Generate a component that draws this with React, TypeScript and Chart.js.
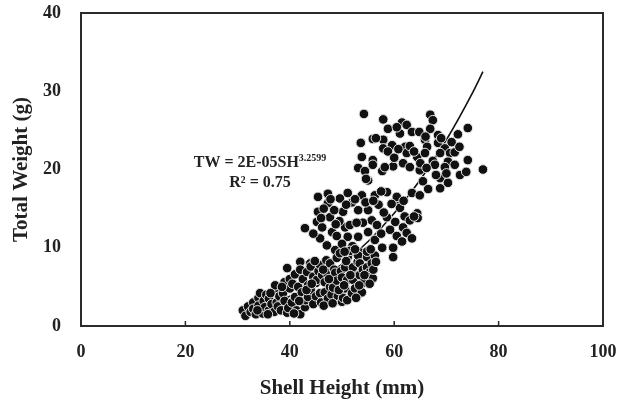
import React, { useEffect, useRef } from "react";
import { Chart, registerables } from "chart.js";

Chart.register(...registerables);

// Shell height (mm) of each sampled animal
const lowerShellHeight = [31, 31.5, 32, 32.5, 33, 33, 33.5, 34, 34, 34.3, 34.8, 35, 35.2, 35.5, 36, 36, 36.5, 37, 37, 37.2, 37.5, 37.7, 38, 38.3, 38.7, 39, 39, 39.5, 39.5, 39.7, 40, 40, 40.4, 40.5, 41, 41, 41.3, 41.6, 42, 42, 42, 42.3, 42.5, 42.9, 43, 43.3, 43.5, 43.5, 43.9, 44, 44, 44.5, 44.5, 45, 45, 45.2, 45.5, 45.8, 45.8, 46, 46.2, 46.7, 46.7, 47, 47.1, 47.3, 47.7, 47.7, 48, 48.3, 48.5, 48.7, 49, 49, 49.2, 49.6, 49.8, 50, 50, 50.2, 50.6, 50.6, 51, 51, 51.1, 51.5, 51.9, 52, 52.1, 52.1, 52.5, 53, 53.1, 53.4, 53.4, 53.8, 54, 54, 54.8, 54.8, 54.8, 55.2, 55.7, 55.9, 56, 56.3,
  33.8, 35.8, 36.3, 38.5, 40.8, 41.8, 43.2, 44.2, 44.8, 46.4, 46.5, 47.5, 48.2, 49.4, 50.4, 50.8, 51.6, 52.7, 53.3, 54.3, 55.3, 52.5, 50.5, 56.5, 55.5];
const lowerTotalWeight = [2.0, 1.3, 2.5, 1.8, 3.0, 2.2, 1.5, 3.6, 2.6, 4.2, 1.6, 3.2, 2.4, 4.0, 2.0, 3.5, 2.8, 1.8, 4.4, 5.2, 3.0, 2.5, 3.8, 2.0, 4.2, 5.6, 3.2, 7.4, 1.7, 2.3, 4.8, 6.0, 3.0, 5.4, 3.7, 6.6, 2.0, 5.0, 8.2, 7.2, 1.5, 4.3, 6.0, 2.4, 3.3, 6.9, 3.7, 5.2, 8.0, 4.6, 7.6, 2.8, 6.3, 3.8, 5.5, 5.9, 7.0, 7.8, 4.2, 3.0, 6.5, 4.3, 5.6, 8.4, 6.8, 3.5, 8.0, 5.0, 4.0, 4.9, 7.2, 6.8, 8.7, 5.8, 3.8, 9.3, 7.0, 3.1, 6.2, 3.6, 7.5, 4.8, 3.3, 5.9, 8.8, 9.6, 4.2, 6.8, 7.5, 5.9, 4.8, 8.2, 9.0, 6.5, 8.0, 4.3, 7.2, 5.5, 8.8, 7.5, 9.5, 6.8, 8.0, 6.1, 7.2, 9.0,
  2.0, 1.5, 4.2, 5.0, 1.6, 3.2, 4.6, 5.4, 8.3, 7.2, 2.6, 6.0, 2.9, 4.6, 5.2, 8.3, 6.5, 3.6, 5.2, 6.5, 5.4, 9.8, 9.5, 8.2, 9.8];

const middleShellHeight = [45.4, 47.3, 47.3, 49.6, 51.1, 51.9, 53.8, 56.3, 58.6, 60.5, 63.4, 45.4, 47.7, 50.2, 53.1, 55, 55.7, 45.2, 46.2, 42.9, 48.1, 50.6, 51.5, 53.1, 51.1, 45.8, 47.1, 48.7, 56.7, 58.6, 60.2, 61.7, 62.4, 59.2, 63.4, 57.7, 59.8, 59.8, 61.1, 64.4, 53.4, 56.3, 46.5, 48.5, 49, 52.5, 54.5, 57, 58, 62, 63, 64.5, 44.5, 50, 52, 55, 54, 57.5, 60.5, 61.5, 46, 49.5, 64.9, 60.5,
  47.8, 50.8, 52.8, 48.8, 56, 57.5, 59.5, 61.8, 63.8];
const middleTotalWeight = [16.5, 16.9, 15.7, 16.3, 17.0, 15.8, 16.7, 16.7, 17.1, 16.1, 17.0, 14.6, 13.9, 14.6, 14.8, 14.8, 13.5, 13.3, 12.6, 12.5, 12.0, 12.6, 12.9, 11.4, 11.4, 11.2, 10.3, 9.7, 12.9, 13.9, 13.3, 12.6, 11.9, 12.3, 11.2, 10.0, 10.0, 8.8, 15.1, 14.4, 9.4, 11.0, 15.0, 14.8, 11.5, 16.2, 15.8, 15.5, 14.5, 14.0, 13.5, 13.8, 11.8, 10.5, 10.2, 12.0, 13.2, 11.8, 11.5, 10.8, 13.8, 13.4, 16.7, 16.5,
  16.2, 15.5, 13.2, 13.0, 16.0, 17.2, 15.6, 16.0, 14.0];

const upperShellHeight = [54.2, 57.9, 58.8, 61.5, 62.4, 66.9, 67.4, 66.9, 61.1, 63.4, 64.8, 68.4, 72.2, 74.1, 53.6, 55.9, 57.9, 57.9, 59.6, 58.8, 62.1, 62.4, 65.9, 66.3, 68.4, 69.7, 68.8, 70.7, 71.6, 53.8, 55.9, 64.4, 65.9, 67.4, 70.3, 74.1, 53.1, 54.4, 55.9, 57.7, 59.8, 61.7, 63, 64.9, 67.8, 69.7, 71.6, 72.6, 73.8, 77, 55, 68.8, 70.3, 68.8, 60, 65, 66, 69, 71, 63, 60.5, 56.5, 70, 65.5, 66.5, 54.6,
  58.2, 60.8, 63.8, 66.2, 68, 72.5];
const upperTotalWeight = [27.1, 26.4, 25.2, 26.0, 25.7, 27.0, 26.3, 25.2, 24.6, 24.8, 24.8, 24.4, 24.5, 25.3, 23.4, 23.9, 23.8, 22.7, 23.1, 22.3, 22.9, 22.1, 23.8, 22.9, 23.4, 22.7, 22.1, 22.1, 22.2, 21.6, 21.2, 21.6, 22.1, 21.1, 21.0, 21.2, 20.2, 19.8, 20.6, 19.8, 20.4, 20.8, 20.3, 19.9, 20.6, 20.3, 20.6, 19.3, 19.7, 20.0, 18.6, 18.9, 18.3, 17.6, 21.5, 20.8, 24.2, 24.0, 23.5, 23.0, 25.4, 24.0, 19.5, 18.5, 17.5, 18.8,
  20.3, 22.6, 22.3, 20.2, 19.3, 22.9];

// Power trendline
const trendShellHeight = [31, 35, 40, 45, 50, 55, 60, 65, 70, 75, 77];
const trendTotalWeight = [1.7, 2.5, 3.8, 5.6, 7.9, 10.8, 14.4, 18.7, 23.8, 29.8, 32.5];

const xTicks = [0, 20, 40, 60, 80, 100];
const yTicks = [0, 10, 20, 30, 40];

const equationMain = "TW = 2E-05SH";
const equationExp = "3.2599";
const rSquaredText = "R² = 0.75";

const FONT = "'Liberation Serif', 'Times New Roman', serif";

function pairs(xs: number[], ys: number[]) {
  return xs.map((x, i) => ({ x, y: ys[i] }));
}

const framePlugin = {
  id: "frame",
  afterDraw(chart: any) {
    const { ctx, chartArea } = chart;
    const { left, right, top, bottom } = chartArea;
    ctx.save();
    ctx.strokeStyle = "#2b2b2b";
    ctx.lineWidth = 2;
    ctx.strokeRect(left, top, right - left, bottom - top);
    const xs = chart.scales.x;
    ctx.lineWidth = 1.5;
    xTicks.forEach((v) => {
      if (v === 0 || v === 100) return;
      const px = xs.getPixelForValue(v);
      ctx.beginPath();
      ctx.moveTo(px, bottom);
      ctx.lineTo(px, bottom - 5);
      ctx.stroke();
    });
    ctx.restore();
  },
};

const equationPlugin = {
  id: "equation",
  afterDatasetsDraw(chart: any) {
    const { ctx } = chart;
    const xs = chart.scales.x;
    const ys = chart.scales.y;
    const cx = xs.getPixelForValue(34.3);
    const y1 = ys.getPixelForValue(20.8);
    const y2 = ys.getPixelForValue(18.3);
    ctx.save();
    ctx.fillStyle = "#222";
    ctx.textBaseline = "middle";
    ctx.textAlign = "left";
    ctx.font = `bold 16px ${FONT}`;
    const w1 = ctx.measureText(equationMain).width;
    ctx.font = `bold 10px ${FONT}`;
    const w2 = ctx.measureText(equationExp).width;
    const start = cx - (w1 + w2) / 2;
    ctx.font = `bold 16px ${FONT}`;
    ctx.fillText(equationMain, start, y1);
    ctx.font = `bold 10px ${FONT}`;
    ctx.fillText(equationExp, start + w1, y1 - 5);
    ctx.font = `bold 16px ${FONT}`;
    ctx.textAlign = "center";
    ctx.fillText(rSquaredText, cx, y2);
    ctx.restore();
  },
};

export default function App() {
  const canvasRef = useRef<HTMLCanvasElement | null>(null);

  useEffect(() => {
    if (!canvasRef.current) return;
    const pointStyle = {
      backgroundColor: "#111111",
      borderColor: "#e6e6e6",
      borderWidth: 1,
      pointRadius: 4.8,
      pointHoverRadius: 4.8,
      showLine: false,
    };
    const chart = new Chart(canvasRef.current, {
      type: "scatter",
      data: {
        datasets: [
          { label: "lower", data: pairs(lowerShellHeight, lowerTotalWeight), ...pointStyle },
          { label: "middle", data: pairs(middleShellHeight, middleTotalWeight), ...pointStyle },
          { label: "upper", data: pairs(upperShellHeight, upperTotalWeight), ...pointStyle },
          {
            label: "trend",
            data: pairs(trendShellHeight, trendTotalWeight),
            showLine: true,
            borderColor: "#111111",
            borderWidth: 1.6,
            pointRadius: 0,
            cubicInterpolationMode: "monotone",
            fill: false,
          } as any,
        ],
      },
      options: {
        animation: false,
        responsive: false,
        devicePixelRatio: 1,
        layout: { padding: { top: 13, right: 28, left: 0, bottom: 0 } },
        plugins: {
          legend: { display: false },
          tooltip: { enabled: false },
        },
        scales: {
          x: {
            type: "linear",
            min: 0,
            max: 100,
            afterBuildTicks: (s: any) => {
              s.ticks = xTicks.map((v) => ({ value: v }));
            },
            ticks: {
              color: "#222",
              padding: 16,
              font: { family: FONT, size: 18, weight: "bold" },
            },
            grid: { display: false, drawTicks: false },
            border: { display: false },
            title: {
              display: true,
              text: "Shell Height (mm)",
              color: "#222",
              font: { family: FONT, size: 21, weight: "bold" },
              padding: { top: 0, bottom: 7 },
            },
            afterFit: (s: any) => {
              s.height = 82;
              s.paddingLeft = 0;
              s.paddingRight = 0;
            },
          },
          y: {
            type: "linear",
            min: 0,
            max: 40,
            afterBuildTicks: (s: any) => {
              s.ticks = yTicks.map((v) => ({ value: v }));
            },
            ticks: {
              color: "#222",
              padding: 20,
              font: { family: FONT, size: 18, weight: "bold" },
            },
            grid: { display: false, drawTicks: false },
            border: { display: false },
            title: {
              display: true,
              text: "Total Weight (g)",
              color: "#222",
              font: { family: FONT, size: 21, weight: "bold" },
              padding: { top: 9, bottom: 0 },
            },
            afterFit: (s: any) => {
              s.width = 81;
              s.paddingTop = 0;
              s.paddingBottom = 0;
            },
          },
        },
      } as any,
      plugins: [framePlugin, equationPlugin],
    });
    return () => chart.destroy();
  }, []);

  return (
    <div style={{ position: "fixed", left: 0, top: 0, width: 631, height: 408, background: "#fff" }}>
      <canvas ref={canvasRef} width={631} height={408} style={{ width: 631, height: 408, display: "block" }} />
    </div>
  );
}
